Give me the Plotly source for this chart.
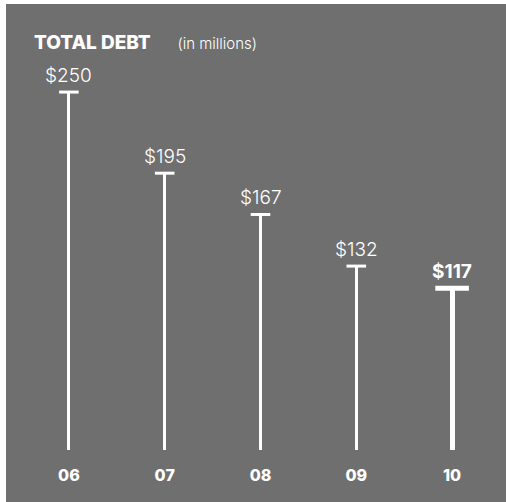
import plotly.graph_objects as go

# Total debt by fiscal year (in millions of dollars)
years = ["06", "07", "08", "09", "10"]
debt = [250, 195, 167, 132, 117]

PANEL = "#6f6f6f"
WHITE = "#ffffff"
FONT = "Inter"

# the latest year is emphasised with a heavier stem, cap and label
stem_w = [0.031, 0.031, 0.031, 0.031, 0.052]
cap_size = [14, 14, 14, 14, 24]
cap_line = [3, 3, 3, 3, 5]

fig = go.Figure()

fig.add_trace(go.Bar(
    x=years, y=debt, width=stem_w,
    marker=dict(color=WHITE, line=dict(width=0)),
    hoverinfo="skip",
))

fig.add_trace(go.Scatter(
    x=years, y=debt, mode="markers",
    marker=dict(symbol="line-ew", size=cap_size, color=WHITE, opacity=1,
                line=dict(color=WHITE, width=cap_line)),
    hoverinfo="skip",
))

# value labels; categories like "06" look numeric to plotly, so annotations
# are placed by category index
for i, v in enumerate(debt):
    last = i == len(debt) - 1
    fig.add_annotation(
        x=i, y=v, text="&#36;{}".format(v), showarrow=False,
        yanchor="bottom", yshift=3,
        font=dict(family=FONT, size=19, color=WHITE,
                  weight=700 if last else 300),
    )

# title
fig.add_annotation(
    xref="paper", yref="paper", x=0.023, y=0.994,
    xanchor="left", yanchor="middle", showarrow=False,
    text=("<span style='font-weight:800'>TOTAL DEBT</span>&#160;&#160;&#160;&#160;&#160;"
          "<span style='font-size:15px;font-weight:300'>(in millions)</span>"),
    font=dict(family=FONT, size=19, color=WHITE),
)

# grey panel behind the chart
fig.add_shape(
    type="rect", xref="paper", yref="paper",
    x0=-0.0313, x1=1.03, y0=-0.2, y1=1.0878,
    fillcolor=PANEL, line=dict(width=0), layer="below",
)

fig.update_layout(
    width=506, height=502,
    margin=dict(l=21, r=6, t=40, b=52),
    paper_bgcolor=WHITE, plot_bgcolor="rgba(0,0,0,0)",
    showlegend=False, bargap=0,
    xaxis=dict(
        type="category", range=[-0.5, 4.5],
        showgrid=False, zeroline=False, showline=False, ticks="",
        ticklabelstandoff=14,
        tickfont=dict(family=FONT, size=16, color=WHITE, weight=800),
    ),
    yaxis=dict(
        range=[7.3, 285.3], visible=False,
        showgrid=False, zeroline=False,
    ),
)

fig.write_html("out.html")
